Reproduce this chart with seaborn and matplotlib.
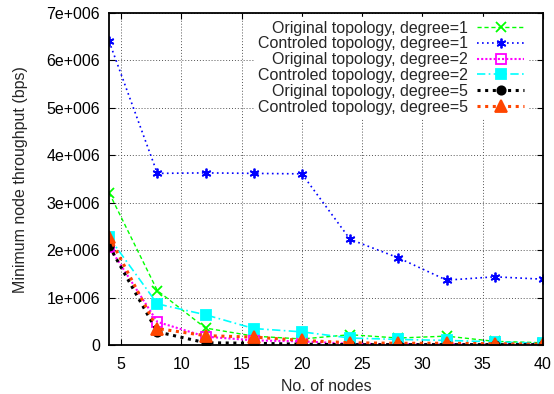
import pandas as pd
import matplotlib
matplotlib.use("Agg")
import matplotlib.pyplot as plt
import seaborn as sns

# Data
nodes = [4, 8, 12, 16, 20, 24, 28, 32, 36, 40]
orig_deg1 = [3.21e6, 1.15e6, 0.36e6, 0.19e6, 0.13e6, 0.22e6, 0.15e6, 0.19e6, 0.08e6, 0.05e6]
ctrl_deg1 = [6.40e6, 3.62e6, 3.63e6, 3.62e6, 3.61e6, 2.23e6, 1.84e6, 1.37e6, 1.44e6, 1.39e6]
orig_deg2 = [2.07e6, 0.49e6, 0.18e6, 0.10e6, 0.08e6, 0.03e6, 0.02e6, 0.02e6, 0.02e6, 0.02e6]
ctrl_deg2 = [2.27e6, 0.87e6, 0.64e6, 0.35e6, 0.28e6, 0.15e6, 0.12e6, 0.10e6, 0.07e6, 0.04e6]
orig_deg5 = [2.09e6, 0.28e6, 0.05e6, 0.04e6, 0.02e6, 0.01e6, 0.01e6, 0.01e6, 0.01e6, 0.01e6]
ctrl_deg5 = [2.28e6, 0.35e6, 0.20e6, 0.17e6, 0.10e6, 0.05e6, 0.04e6, 0.04e6, 0.03e6, 0.02e6]

labels = [
    "Original topology, degree=1",
    "Controled topology, degree=1",
    "Original topology, degree=2",
    "Controled topology, degree=2",
    "Original topology, degree=5",
    "Controled topology, degree=5",
]
series = [orig_deg1, ctrl_deg1, orig_deg2, ctrl_deg2, orig_deg5, ctrl_deg5]

rows = []
for lab, vals in zip(labels, series):
    for n, v in zip(nodes, vals):
        rows.append({"nodes": n, "throughput": v, "series": lab})
df = pd.DataFrame(rows)

sns.set_style("ticks", {"xtick.direction": "in", "ytick.direction": "in"})
plt.rcParams['font.family'] = ['Liberation Sans', 'DejaVu Sans']
plt.rcParams['font.size'] = 11.5

# (color, linestyle, marker, markersize, linewidth, filled)
styles = [
    ("#00ff00", (0, (3, 2)), "x", 7, 1.0, True),
    ("#0000ff", (0, (1, 2)), (6, 2, 0), 7, 1.2, True),
    ("#ff00ff", (0, (1, 1)), "s", 7, 1.5, False),
    ("#00ffff", (0, (5, 2, 1, 2)), "s", 7, 1.2, True),
    ("#000000", (0, (1, 1.5)), "o", 6, 2.2, True),
    ("#ff4500", (0, (1, 1.5)), "^", 8, 2.2, True),
]

fig = plt.figure(figsize=(5.54, 3.94), dpi=100)
ax = fig.add_axes([0.197, 0.124, 0.783, 0.843])

for lab, (col, ls, mk, ms, lw, filled) in zip(labels, styles):
    sub = df[df["series"] == lab]
    sns.lineplot(
        data=sub, x="nodes", y="throughput", ax=ax, label=lab,
        color=col, linestyle=ls, marker=mk, markersize=ms, linewidth=lw,
        markerfacecolor=col if filled else "none", markeredgecolor=col,
        markeredgewidth=1.3,
    )

ax.set_xlim(4, 40)
ax.set_ylim(0, 7e6)
ax.set_xticks([5, 10, 15, 20, 25, 30, 35, 40])
yt = [0, 1e6, 2e6, 3e6, 4e6, 5e6, 6e6, 7e6]
ytl = ["0", "1e+006", "2e+006", "3e+006", "4e+006", "5e+006", "6e+006", "7e+006"]
ax.set_yticks(yt)
ax.set_yticklabels(ytl)
ax.tick_params(top=True, right=True, length=4, width=0.8, colors="black")
ax.tick_params(axis="x", pad=8.5)
ax.tick_params(axis="y", pad=6.5)
ax.grid(True, color="#555555", linestyle=(0, (1, 2)), linewidth=0.7)
for s in ax.spines.values():
    s.set_linewidth(1.3)
    s.set_color("black")

ax.set_xlabel("No. of nodes", labelpad=5)
ax.set_ylabel("Minimum node throughput (bps)", labelpad=13)

leg = ax.legend(loc="upper right", bbox_to_anchor=(1.0, 1.035),
                markerfirst=False, frameon=True,
                facecolor="white", edgecolor="white", framealpha=1,
                fancybox=False, borderpad=0.2, labelspacing=0.05,
                handlelength=2.9, handletextpad=0.6, borderaxespad=1.0)
leg.set_zorder(5)

fig.savefig("out.png", dpi=100)
